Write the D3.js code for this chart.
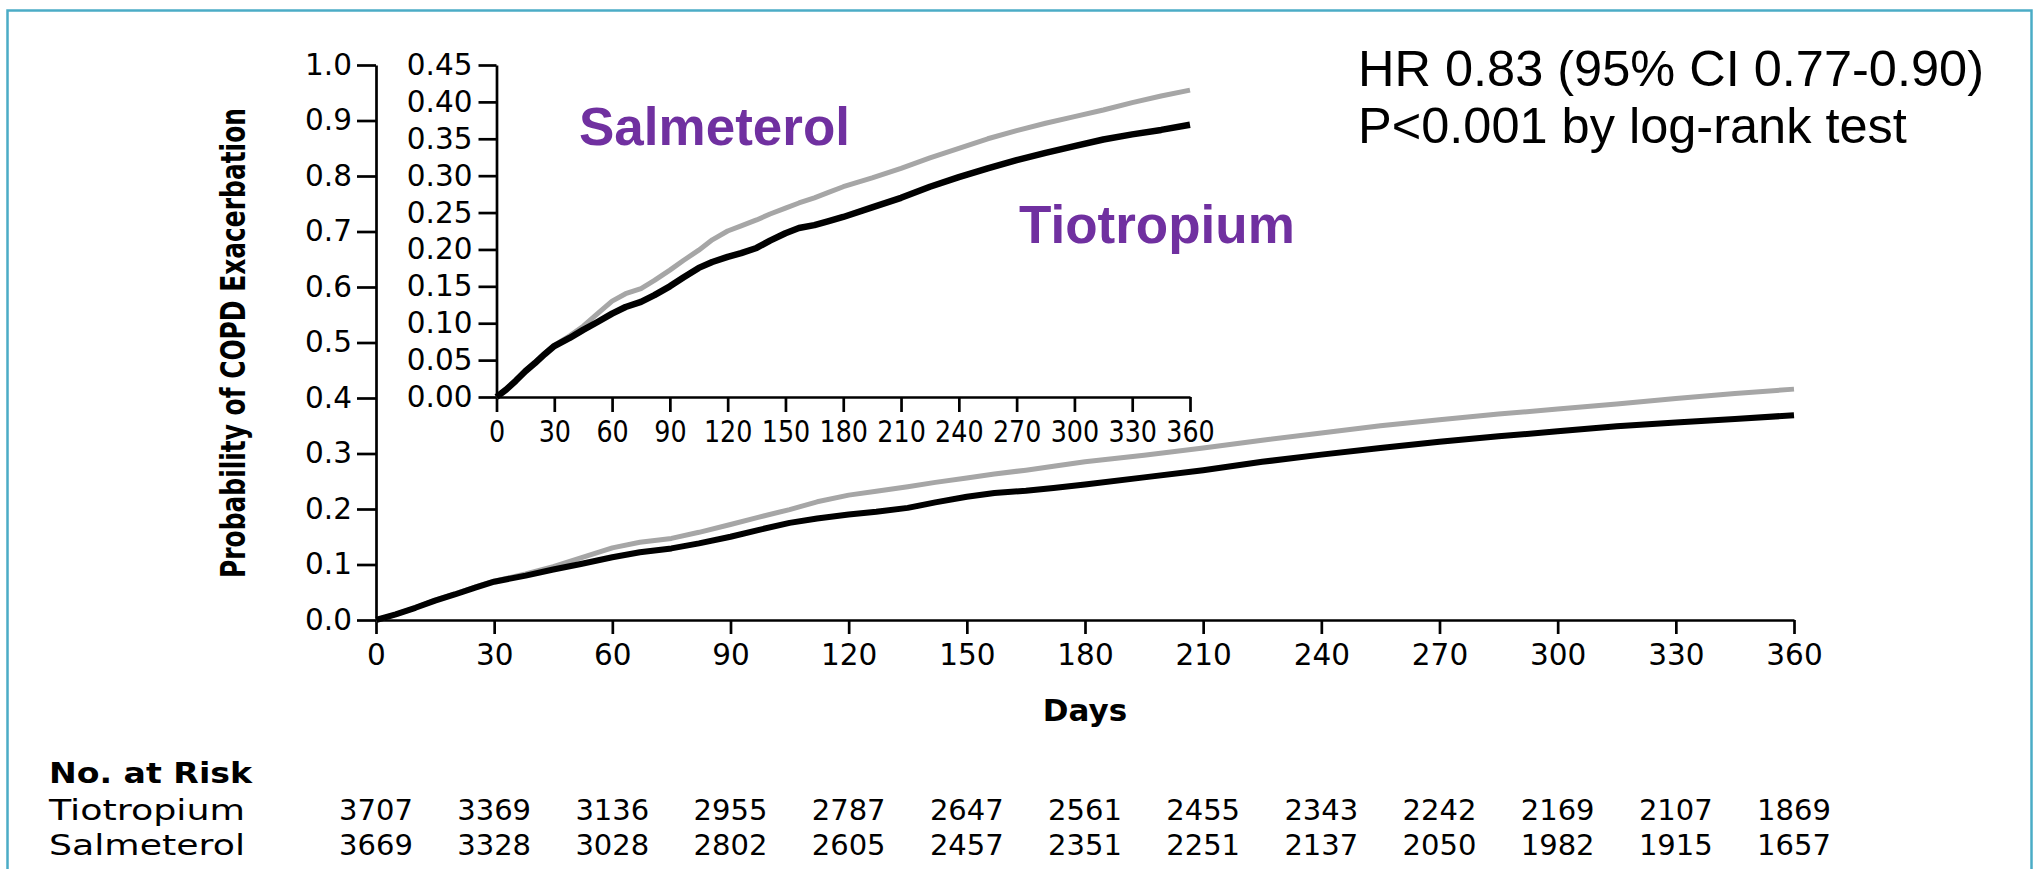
<!DOCTYPE html>
<html>
<head>
<meta charset="utf-8">
<script src="https://cdn.jsdelivr.net/npm/d3@7"></script>
<style>
  html, body { margin: 0; padding: 0; background: #fff; }
  svg { display: block; }
</style>
</head>
<body>
<svg id="chart" width="2039" height="869"></svg>
<script>
// Cumulative probability of first COPD exacerbation by study day
const days = [0, 5, 10, 15, 20, 25, 30, 38, 45, 52, 60, 67, 75, 82, 90, 97, 105, 112, 120, 127, 135, 142, 150, 157, 165, 172, 180, 195, 210, 225, 240, 255, 270, 285, 300, 315, 330, 345, 360];
const tiotropium = [0, 0.010, 0.022, 0.035, 0.046, 0.058, 0.069, 0.080, 0.091, 0.101, 0.113, 0.122, 0.129, 0.138, 0.150, 0.162, 0.175, 0.183, 0.190, 0.195, 0.202, 0.212, 0.222, 0.229, 0.233, 0.238, 0.244, 0.257, 0.270, 0.285, 0.298, 0.310, 0.321, 0.331, 0.340, 0.349, 0.356, 0.362, 0.369];
const salmeterol = [0, 0.010, 0.022, 0.036, 0.047, 0.059, 0.070, 0.083, 0.096, 0.112, 0.130, 0.140, 0.147, 0.158, 0.172, 0.185, 0.199, 0.213, 0.225, 0.232, 0.240, 0.248, 0.256, 0.263, 0.270, 0.277, 0.285, 0.297, 0.310, 0.324, 0.337, 0.350, 0.361, 0.371, 0.380, 0.389, 0.399, 0.408, 0.416];

// Axis ticks
const dayTicks = [0, 30, 60, 90, 120, 150, 180, 210, 240, 270, 300, 330, 360];
const mainYTicks = [0, 0.1, 0.2, 0.3, 0.4, 0.5, 0.6, 0.7, 0.8, 0.9, 1.0];
const insetYTicks = [0, 0.05, 0.10, 0.15, 0.20, 0.25, 0.30, 0.35, 0.40, 0.45];

// Number at risk at each tick day
const riskGroups = ["Tiotropium", "Salmeterol"];
const riskTiotropium = [3707, 3369, 3136, 2955, 2787, 2647, 2561, 2455, 2343, 2242, 2169, 2107, 1869];
const riskSalmeterol = [3669, 3328, 3028, 2802, 2605, 2457, 2351, 2251, 2137, 2050, 1982, 1915, 1657];

// Annotation text
const statLines = ["HR 0.83 (95% CI 0.77-0.90)", "P<0.001 by log-rank test"];

const svg = d3.select("#chart");
const FIG_FONT = "'DejaVu Sans', sans-serif";
const NOTE_FONT = "'Liberation Sans', Arial, sans-serif";
const PURPLE = "#7030a0";
const GREY = "#a6a6a6";

// Frame
svg.append("rect")
  .attr("x", 7.5).attr("y", 10.5)
  .attr("width", 2024).attr("height", 900)
  .attr("fill", "none")
  .attr("stroke", "#4bacc6")
  .attr("stroke-width", 2.5);

// Scales: main panel and inset
const x = d3.scaleLinear().domain([0, 360]).range([376, 1794]);
const y = d3.scaleLinear().domain([0, 1.0]).range([620, 65]);
const xi = d3.scaleLinear().domain([0, 360]).range([496.5, 1190]);
const yi = d3.scaleLinear().domain([0, 0.45]).range([397, 65]);

function styleAxis(g, size) {
  g.select(".domain").attr("stroke", "#000").attr("stroke-width", 2.7);
  g.selectAll(".tick line").attr("stroke", "#000").attr("stroke-width", 2.7);
  g.selectAll(".tick text")
    .attr("fill", "#000")
    .style("font-family", FIG_FONT)
    .style("font-size", size + "px");
}

// Main axes
svg.append("g")
  .attr("transform", "translate(376,0)")
  .call(d3.axisLeft(y).tickValues(mainYTicks).tickSize(19).tickSizeOuter(0)
    .tickPadding(5).tickFormat(d3.format(".1f")))
  .call(g => styleAxis(g, 29.5));

svg.append("g")
  .attr("transform", "translate(0,620)")
  .call(d3.axisBottom(x).tickValues(dayTicks).tickSize(14).tickSizeOuter(0)
    .tickPadding(10).tickFormat(d3.format("d")))
  .call(g => styleAxis(g, 29.5));

// Main curves
const lineMain = (vals) => d3.line()
  .x((d, i) => x(days[i]))
  .y(d => y(d))(vals);

svg.append("path").attr("d", lineMain(salmeterol))
  .attr("fill", "none").attr("stroke", GREY).attr("stroke-width", 5)
  .attr("stroke-linejoin", "round");
svg.append("path").attr("d", lineMain(tiotropium))
  .attr("fill", "none").attr("stroke", "#000").attr("stroke-width", 6)
  .attr("stroke-linejoin", "round");

// Inset axes
svg.append("g")
  .attr("transform", "translate(496.5,0)")
  .call(d3.axisLeft(yi).tickValues(insetYTicks).tickSize(18).tickSizeOuter(0)
    .tickPadding(6).tickFormat(d3.format(".2f")))
  .call(g => styleAxis(g, 29.5));

svg.append("g")
  .attr("transform", "translate(0,397)")
  .call(d3.axisBottom(xi).tickValues(dayTicks).tickSize(15).tickSizeOuter(0)
    .tickPadding(8).tickFormat(d3.format("d")))
  .call(g => styleAxis(g, 31))
  .call(g => g.selectAll(".tick text").attr("transform", "scale(0.82,1)"));

// Inset curves
const lineInset = (vals) => d3.line()
  .x((d, i) => xi(days[i]))
  .y(d => yi(d))(vals);

svg.append("path").attr("d", lineInset(salmeterol))
  .attr("fill", "none").attr("stroke", GREY).attr("stroke-width", 5)
  .attr("stroke-linejoin", "round");
svg.append("path").attr("d", lineInset(tiotropium))
  .attr("fill", "none").attr("stroke", "#000").attr("stroke-width", 6.5)
  .attr("stroke-linejoin", "round");

// Series labels
svg.append("text").text("Salmeterol")
  .attr("x", 579).attr("y", 145)
  .attr("fill", PURPLE)
  .style("font-family", NOTE_FONT).style("font-weight", "bold").style("font-size", "53px");
svg.append("text").text("Tiotropium")
  .attr("x", 1019).attr("y", 243)
  .attr("fill", PURPLE)
  .style("font-family", NOTE_FONT).style("font-weight", "bold").style("font-size", "53px");

// Hazard ratio note
svg.append("g").selectAll("text").data(statLines).join("text")
  .text(d => d)
  .attr("x", 1358)
  .attr("y", (d, i) => 86 + i * 57)
  .attr("fill", "#000")
  .style("font-family", NOTE_FONT).style("font-size", "50.5px");

// Axis titles
svg.append("text").text("Days")
  .attr("x", (x.range()[0] + x.range()[1]) / 2).attr("y", 721)
  .attr("text-anchor", "middle")
  .style("font-family", FIG_FONT).style("font-weight", "bold").style("font-size", "31px");

svg.append("text").text("Probability of COPD Exacerbation")
  .attr("transform", "translate(245,343) rotate(-90)")
  .attr("text-anchor", "middle")
  .attr("textLength", 470).attr("lengthAdjust", "spacingAndGlyphs")
  .style("font-family", "'DejaVu Sans Condensed', 'DejaVu Sans', sans-serif")
  .style("font-weight", "bold").style("font-size", "33px");

// Number at risk table
svg.append("text").text("No. at Risk")
  .attr("x", 49).attr("y", 783)
  .attr("textLength", 203).attr("lengthAdjust", "spacingAndGlyphs")
  .style("font-family", FIG_FONT).style("font-weight", "bold").style("font-size", "29px");

const rows = [riskTiotropium, riskSalmeterol];
rows.forEach((vals, r) => {
  const yy = 820 + r * 35;
  svg.append("text").text(riskGroups[r])
    .attr("x", 49).attr("y", yy)
    .attr("textLength", 196).attr("lengthAdjust", "spacingAndGlyphs")
    .style("font-family", FIG_FONT).style("font-size", "29px");
  svg.append("g").selectAll("text").data(vals).join("text")
    .text(d => d)
    .attr("x", (d, i) => x(dayTicks[i]))
    .attr("y", yy)
    .attr("text-anchor", "middle")
    .style("font-family", FIG_FONT).style("font-size", "29px");
});
</script>
</body>
</html>
